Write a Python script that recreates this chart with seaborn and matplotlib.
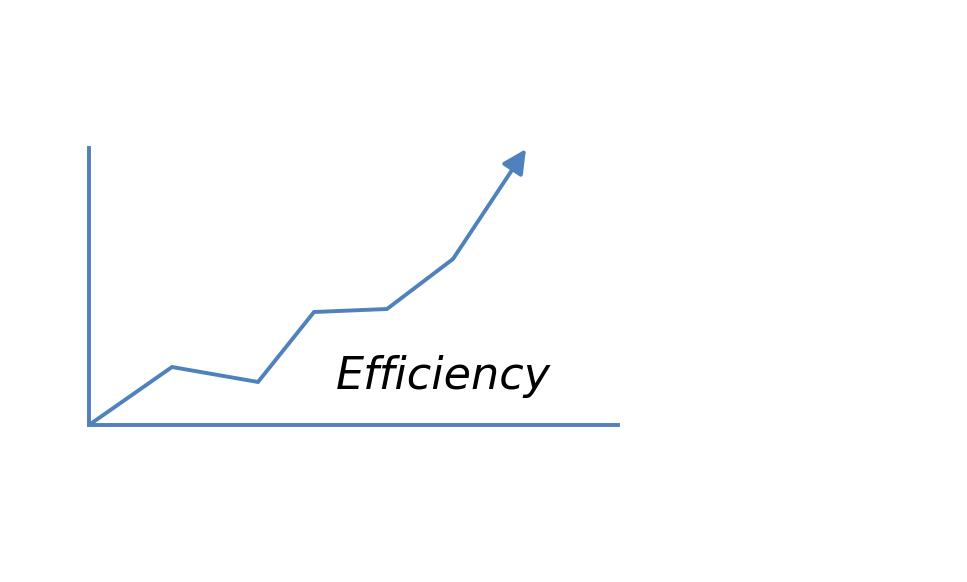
import matplotlib
matplotlib.use("Agg")
import matplotlib.pyplot as plt
import seaborn as sns
import pandas as pd

sns.set_theme(style="white")
plt.rcParams['font.family'] = ['DejaVu Sans']

# Efficiency curve (relative units, origin at axis corner)
step_x = [0, 83, 169, 225, 298, 364]
efficiency = [0, 58, 43, 113, 116, 166]
arrow_tip = (437, 276)
axis_x_end = 529
axis_y_end = 277
label = "Efficiency"

color = "#4F81BD"
lw = 2.8

fig = plt.figure(figsize=(9.67, 5.82), dpi=100)
ax = fig.add_axes([0, 0, 1, 1])
ax.set_xlim(-89, 878)
ax.set_ylim(-157, 425)
ax.axis("off")

df = pd.DataFrame({"x": step_x, "y": efficiency})
sns.lineplot(data=df, x="x", y="y", ax=ax, color=color, linewidth=lw,
             sort=False, estimator=None, solid_capstyle="butt",
             solid_joinstyle="miter")

# final rising segment with arrow
ax.annotate("", xy=arrow_tip, xytext=(step_x[-1], efficiency[-1]),
            arrowprops=dict(arrowstyle="-|>,head_length=1.2,head_width=0.6",
                            color=color, lw=lw, shrinkA=0, shrinkB=0))

# axes lines
axes_df = pd.DataFrame({"x": [0, 0, 0, axis_x_end],
                        "y": [axis_y_end, 0, 0, 0],
                        "part": ["v", "v", "h", "h"]})
for part, sub in axes_df.groupby("part"):
    sns.lineplot(data=sub, x="x", y="y", ax=ax, color=color, linewidth=lw,
                 sort=False, estimator=None, solid_capstyle="projecting")

ax.text(354, 48, label, fontsize=32, style="italic", color="black",
        ha="center", va="center")

fig.savefig("out.png", dpi=100, facecolor="white")
